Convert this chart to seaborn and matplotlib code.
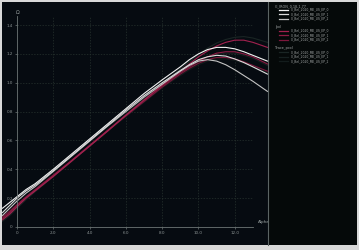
import numpy as np
import pandas as pd
import matplotlib
matplotlib.use("Agg")
import matplotlib.pyplot as plt
from matplotlib.patches import Rectangle
import seaborn as sns

# ---------------- data ----------------
alpha_vals = [-0.8, -0.4, 0, 0.5, 1, 2, 3, 4, 5, 6, 7, 8, 9, 9.5, 10, 10.5, 11, 11.5, 12, 12.5, 13, 13.8]

white_a = [0.13, 0.17, 0.21, 0.26, 0.30, 0.40, 0.505, 0.61, 0.715, 0.82, 0.925, 1.02, 1.11, 1.16, 1.20, 1.23, 1.245, 1.245, 1.235, 1.215, 1.19, 1.15]
white_b = [0.10, 0.15, 0.20, 0.25, 0.29, 0.39, 0.495, 0.60, 0.705, 0.81, 0.91, 1.00, 1.085, 1.125, 1.16, 1.18, 1.19, 1.185, 1.165, 1.14, 1.11, 1.06]
white_c = [0.08, 0.13, 0.18, 0.235, 0.28, 0.385, 0.49, 0.595, 0.70, 0.80, 0.90, 0.99, 1.08, 1.12, 1.15, 1.16, 1.15, 1.125, 1.09, 1.05, 1.01, 0.94]

crim_a = [0.05, 0.09, 0.14, 0.20, 0.25, 0.35, 0.455, 0.56, 0.665, 0.775, 0.88, 0.985, 1.08, 1.13, 1.18, 1.22, 1.255, 1.28, 1.295, 1.295, 1.28, 1.245]
crim_b = [0.06, 0.10, 0.15, 0.205, 0.255, 0.355, 0.46, 0.565, 0.67, 0.775, 0.88, 0.98, 1.07, 1.11, 1.15, 1.18, 1.205, 1.215, 1.215, 1.20, 1.18, 1.13]
crim_c = [0.07, 0.11, 0.155, 0.21, 0.26, 0.36, 0.46, 0.565, 0.67, 0.77, 0.87, 0.97, 1.06, 1.10, 1.135, 1.16, 1.175, 1.175, 1.165, 1.145, 1.12, 1.08]

dark_a = [0.04, 0.08, 0.13, 0.19, 0.245, 0.35, 0.455, 0.56, 0.67, 0.78, 0.89, 0.995, 1.095, 1.145, 1.195, 1.24, 1.275, 1.30, 1.315, 1.32, 1.31, 1.28]
dark_b = [0.05, 0.09, 0.14, 0.195, 0.25, 0.35, 0.455, 0.56, 0.665, 0.77, 0.875, 0.975, 1.065, 1.105, 1.145, 1.175, 1.195, 1.205, 1.205, 1.19, 1.17, 1.12]
dark_c = [0.06, 0.10, 0.145, 0.20, 0.255, 0.355, 0.455, 0.56, 0.665, 0.765, 0.865, 0.965, 1.05, 1.09, 1.125, 1.15, 1.165, 1.165, 1.155, 1.135, 1.11, 1.07]

group_titles = ["CI_IRON_0.18-1.77", "Jool", "Trace_pool"]
series_labels = ["CI_Bel_2020_ME_US_EP_0", "CI_Bel_2020_ME_US_EP_1", "CI_Bel_2020_ME_US_EP_2"]

x_ticks = [0, 2, 4, 6, 8, 10, 12]
y_ticks = [0, 0.2, 0.4, 0.6, 0.8, 1.0, 1.2, 1.4]

groups = [
    ("w", [white_a, white_b, white_c], ["#f2f2f2", "#dcdcdc", "#c4c4c4"]),
    ("c", [crim_a, crim_b, crim_c], ["#a3214f", "#8e1b44", "#7c173b"]),
    ("d", [dark_a, dark_b, dark_c], ["#1a2524", "#162020", "#131c1c"]),
]

rows = []
palette = {}
for gkey, series, cols in groups:
    for i, (vals, col) in enumerate(zip(series, cols)):
        name = f"{gkey}{i}"
        palette[name] = col
        for xv, yv in zip(alpha_vals, vals):
            rows.append({"Alpha": xv, "Q": yv, "series": name})
df = pd.DataFrame(rows)

# ---------------- figure ----------------
W, H = 359, 250
fig = plt.figure(figsize=(W / 100, H / 100), dpi=100, facecolor="#d9d9d9")
bg = Rectangle((2 / W, 5 / H), 355 / W, 243 / H, transform=fig.transFigure,
               facecolor="#060b11", edgecolor="none", zorder=-10)
fig.patches.append(bg)

ax = fig.add_axes([2 / W, 1 - 242 / H, 266 / W, 236 / H])
ax.set_facecolor("#060b11")
ax.set_xlim(-0.826, 13.83)
ax.set_ylim(-0.104, 1.532)

grid_col = "#27322e"
for xt in x_ticks[1:]:
    ax.vlines(xt, 0, 1.46, colors=grid_col, linestyles=(0, (2, 2)), linewidth=0.5, zorder=0)
for yt in y_ticks[1:]:
    ax.hlines(yt, 0, 13.0, colors=grid_col, linestyles=(0, (2, 2)), linewidth=0.5, zorder=0)

sns.lineplot(data=df, x="Alpha", y="Q", hue="series", palette=palette,
             ax=ax, linewidth=0.8, legend=False, sort=False,
             hue_order=["d0", "d1", "d2", "c2", "c1", "c0", "w2", "w1", "w0"])

for s in ["top", "right"]:
    ax.spines[s].set_visible(False)
ax.spines["left"].set_position(("data", 0))
ax.spines["bottom"].set_position(("data", 0))
ax.spines["left"].set_bounds(0, 1.46)
ax.spines["bottom"].set_bounds(0, 13.0)
for s in ["left", "bottom"]:
    ax.spines[s].set_color("#6e7676")
    ax.spines[s].set_linewidth(0.6)

ax.set_xticks(x_ticks)
ax.set_yticks(y_ticks)
ax.set_xticklabels(["0" if v == 0 else f"{v:.1f}" for v in x_ticks])
ax.set_yticklabels(["0" if v == 0 else f"{v:.1f}" for v in y_ticks])
ax.tick_params(axis="both", colors="#6e7676", labelcolor="#8c9494", labelsize=3.0,
               length=1.5, width=0.5, pad=1.5)
ax.set_xlabel("")
ax.set_ylabel("")
ax.text(0.05, 1.49, "Ω", color="#9aa2a2", fontsize=3.4, ha="center", va="center")
ax.text(13.25, 0.02, "Alpha", color="#9aa2a2", fontsize=3.0, ha="left", va="bottom")

# legend panel
lax = fig.add_axes([268 / W, 1 - 245 / H, 89 / W, 243 / H])
lax.set_facecolor("#050909")
lax.set_xlim(268, 357)
lax.set_ylim(245, 2)
lax.set_xticks([])
lax.set_yticks([])
for s in ["top", "right", "bottom"]:
    lax.spines[s].set_visible(False)
lax.spines["left"].set_color("#5b6464")
lax.spines["left"].set_linewidth(0.8)

txt_col = "#a4a8a8"
title_y = [6.0, 27.0, 48.5]
row_dy = [3.6, 8.1, 12.6]
for (gkey, series, cols), title, ty in zip(groups, group_titles, title_y):
    lax.text(275, ty, title, color=txt_col, fontsize=2.4, ha="left", va="center")
    for dy, col, lab in zip(row_dy, cols, series_labels):
        lax.plot([279, 288], [ty + dy, ty + dy], color=col, linewidth=0.9)
        lax.text(291, ty + dy, lab, color=txt_col, fontsize=2.2, ha="left", va="center")

fig.savefig("out.png", dpi=100, facecolor=fig.get_facecolor())
